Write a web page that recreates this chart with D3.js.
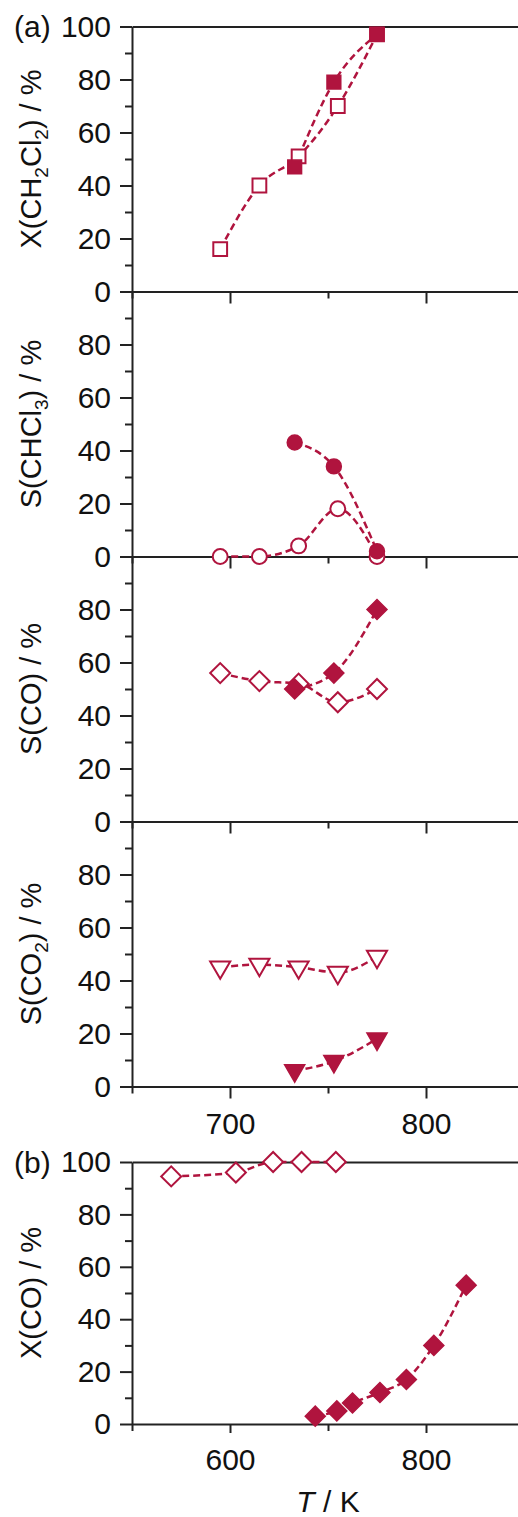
<!DOCTYPE html>
<html>
<head>
<meta charset="utf-8">
<script src="https://cdn.jsdelivr.net/npm/d3@7"></script>
<style>
  html, body { margin: 0; padding: 0; background: #fff; }
  svg { display: block; font-family: "Liberation Sans", Arial, sans-serif; }
  .axis path, .axis line { stroke: #222; stroke-width: 2; }
  .axis text { font-size: 30px; fill: #111; font-family: "Liberation Sans", Arial, sans-serif; }
</style>
</head>
<body>
<svg id="chart" width="518" height="1517"></svg>
<script>
// ---- data ------------------------------------------------------------------
const T_A_OPEN = [695, 715, 735, 755, 775];
const T_A_FILLED = [733, 753, 775];

const X_CH2CL2_OPEN = [16, 40, 51, 70, 97];
const X_CH2CL2_FILLED = [47, 79, 97];
const S_CHCL3_OPEN = [0, 0, 4, 18, 0];
const S_CHCL3_FILLED = [43, 34, 2];
const S_CO_OPEN = [56, 53, 52, 45, 50];
const S_CO_FILLED = [50, 56, 80];
const S_CO2_OPEN = [45, 46, 45, 43, 49];
const S_CO2_FILLED = [6, 9.5, 18];

const T_B_OPEN = [540, 606, 644, 673, 708];
const X_CO_OPEN = [94.5, 96, 100, 100, 100];
const T_B_FILLED = [687, 709, 725, 753, 780, 808, 841];
const X_CO_FILLED = [3, 5, 8, 12, 17, 30, 53];

const Y_MAJOR = [0, 20, 40, 60, 80, 100];
const Y_MAJOR_NO_TOP = [0, 20, 40, 60, 80];
const Y_MINOR = [10, 30, 50, 70, 90];
const XA_MAJOR = [700, 800], XA_MINOR = [650, 750, 850];
const XB_MAJOR = [600, 800], XB_MINOR = [500, 700, 900];

// ---- layout ----------------------------------------------------------------
const RED = '#b0143e';
const L = 132, R = 524;
const svg = d3.select('#chart');
svg.append('rect').attr('width', 518).attr('height', 1517).attr('fill', '#fff');

const xA = d3.scaleLinear().domain([650, 850]).range([L, R]);
const xB = d3.scaleLinear().domain([500, 900]).range([L, R]);

const zip = (xs, ys) => xs.map((x, i) => ({ x, y: ys[i] }));

const panels = [
  { top: 26.5, bot: 291.5, x: xA, xMaj: XA_MAJOR, xMin: XA_MINOR, yMaj: Y_MAJOR, xLabels: false, topLine: true,
    label: ['X(CH', '2', 'Cl', '2', ') / %'], tag: '(a)', shape: 'square',
    open: zip(T_A_OPEN, X_CH2CL2_OPEN), filled: zip(T_A_FILLED, X_CH2CL2_FILLED) },
  { top: 291.5, bot: 556.5, x: xA, xMaj: XA_MAJOR, xMin: XA_MINOR, yMaj: Y_MAJOR_NO_TOP, xLabels: false,
    label: ['S(CHCl', '3', ') / %'], shape: 'circle',
    open: zip(T_A_OPEN, S_CHCL3_OPEN), filled: zip(T_A_FILLED, S_CHCL3_FILLED) },
  { top: 556.5, bot: 821.5, x: xA, xMaj: XA_MAJOR, xMin: XA_MINOR, yMaj: Y_MAJOR_NO_TOP, xLabels: false,
    label: ['S(CO) / %'], shape: 'diamond',
    open: zip(T_A_OPEN, S_CO_OPEN), filled: zip(T_A_FILLED, S_CO_FILLED) },
  { top: 821.5, bot: 1086.5, x: xA, xMaj: XA_MAJOR, xMin: XA_MINOR, yMaj: Y_MAJOR_NO_TOP, xLabels: true, pad: 14,
    label: ['S(CO', '2', ') / %'], shape: 'triangle',
    open: zip(T_A_OPEN, S_CO2_OPEN), filled: zip(T_A_FILLED, S_CO2_FILLED) },
  { top: 1162, bot: 1424, x: xB, xMaj: XB_MAJOR, xMin: XB_MINOR, yMaj: Y_MAJOR, xLabels: true, topLine: true, pad: 16,
    label: ['X(CO) / %'], tag: '(b)', shape: 'diamond', majLen: 9,
    open: zip(T_B_OPEN, X_CO_OPEN), filled: zip(T_B_FILLED, X_CO_FILLED) }
];

const symbols = {
  square:   { type: d3.symbolSquare, size: 190, rot: 0 },
  circle:   { type: d3.symbolCircle, size: 175, rot: 0 },
  diamond:  { type: d3.symbolSquare, size: 200, rot: 45 },
  triangle: { type: d3.symbolTriangle, size: 175, rot: 180 }
};

panels.forEach(p => {
  const y = d3.scaleLinear().domain([0, 100]).range([p.bot, p.top]);
  const x = p.x;
  const majLen = p.majLen || 12;

  // left axis: minor then major
  svg.append('g').attr('class', 'axis').attr('transform', `translate(${L},0)`)
    .call(d3.axisLeft(y).tickValues(Y_MINOR).tickSize(7).tickFormat('').tickSizeOuter(0));
  svg.append('g').attr('class', 'axis').attr('transform', `translate(${L},0)`)
    .call(d3.axisLeft(y).tickValues(p.yMaj).tickSize(12).tickPadding(9).tickSizeOuter(0))
    .select('.domain').remove();

  // bottom axis
  svg.append('g').attr('class', 'axis').attr('transform', `translate(0,${p.bot})`)
    .call(d3.axisBottom(x).tickValues(p.xMin).tickSize(7).tickFormat('').tickSizeOuter(0));
  const gb = svg.append('g').attr('class', 'axis').attr('transform', `translate(0,${p.bot})`)
    .call(d3.axisBottom(x).tickValues(p.xMaj).tickSize(majLen).tickPadding(p.pad || 10).tickSizeOuter(0));
  gb.select('.domain').remove();
  if (!p.xLabels) gb.selectAll('text').remove();

  if (p.topLine) {
    svg.append('g').attr('class', 'axis').attr('transform', `translate(0,${p.top})`)
      .call(d3.axisTop(x).tickValues([]).tickSizeOuter(0));
  }

  // y label with subscripts
  const yl = svg.append('text')
    .attr('transform', `translate(41,${(p.top + p.bot) / 2}) rotate(-90)`)
    .attr('text-anchor', 'middle').style('font-size', '29px').attr('fill', '#111');
  p.label.forEach((s, i) => {
    const sub = i % 2 === 1;
    yl.append('tspan').text(s)
      .style('font-size', sub ? '19px' : '29px')
      .attr('dy', sub ? 7 : (i > 0 ? -7 : 0));
  });

  if (p.tag) {
    svg.append('text').attr('x', 14).attr('y', p.top + 10.5)
      .style('font-size', '30px').attr('fill', '#111').text(p.tag);
  }

  // dashed connecting lines
  const line = d3.line().x(d => x(d.x)).y(d => y(d.y)).curve(d3.curveMonotoneX);
  [p.open, p.filled].forEach(data => {
    svg.append('path').datum(data).attr('d', line)
      .attr('fill', 'none').attr('stroke', RED).attr('stroke-width', 2.5)
      .attr('stroke-dasharray', '7,4');
  });

  // markers: open first, filled on top
  const sym = symbols[p.shape];
  const gen = d3.symbol().type(sym.type).size(sym.size);
  svg.append('g').selectAll('path').data(p.open).join('path')
    .attr('d', gen)
    .attr('transform', d => `translate(${x(d.x)},${y(d.y)}) rotate(${sym.rot})`)
    .attr('fill', '#fff').attr('stroke', RED).attr('stroke-width', 2);
  svg.append('g').selectAll('path').data(p.filled).join('path')
    .attr('d', gen)
    .attr('transform', d => `translate(${x(d.x)},${y(d.y)}) rotate(${sym.rot})`)
    .attr('fill', RED).attr('stroke', RED).attr('stroke-width', 1.5);
});

// x label
const xl = svg.append('text').attr('x', 328).attr('y', 1512)
  .attr('text-anchor', 'middle').style('font-size', '30px').attr('fill', '#111');
xl.append('tspan').style('font-style', 'italic').text('T');
xl.append('tspan').text(' / K');
</script>
</body>
</html>
